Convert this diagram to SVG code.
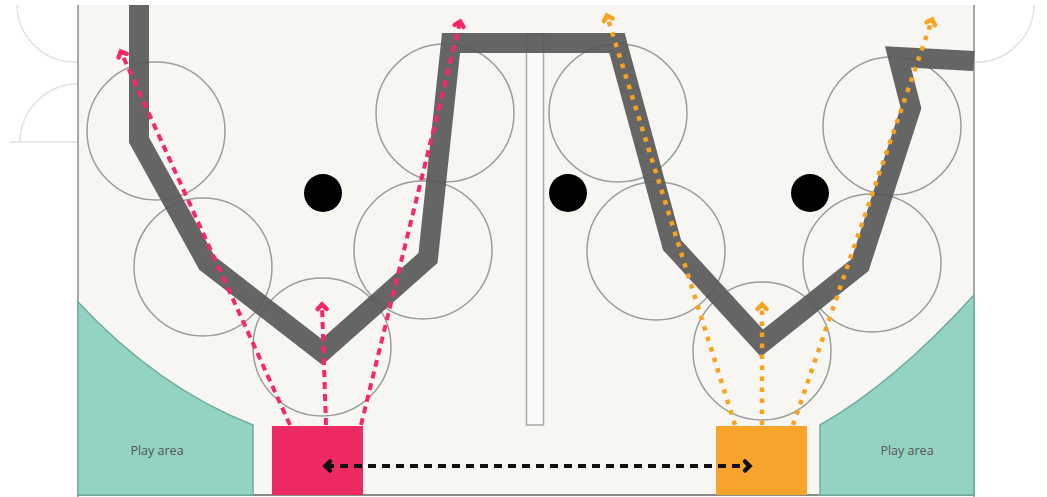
<svg xmlns="http://www.w3.org/2000/svg" width="1047" height="497" viewBox="0 0 1047 497">
  <defs>
    <style>
      .faint { fill: none; stroke: #e2e2e2; stroke-width: 1.5; }
      .wall { stroke: #a8a8a8; stroke-width: 2; fill: none; }
      .zone { fill: none; stroke: #9c9c9c; stroke-width: 1.5; }
      .dot { fill: #000; }
      .teal { fill: #94d3c4; stroke: #6fae9f; stroke-width: 1.5; }
      .label { font-family: "Open Sans", "Liberation Sans", sans-serif; font-size: 12.5px; fill: #555; text-anchor: middle; }
      .band { fill: none; stroke: #595959; stroke-width: 20; stroke-linejoin: miter; stroke-miterlimit: 6; opacity: 0.93; }
      .pink { fill: none; stroke: #f7286a; stroke-width: 4; stroke-dasharray: 7 5; }
      .orange { fill: none; stroke: #f8a320; stroke-width: 4.5; stroke-dasharray: 4.5 6.5; }
      .black { fill: none; stroke: #111; stroke-width: 4; stroke-dasharray: 8 6; }
    </style>
    <marker id="headPink" viewBox="-8 -8 16 16" markerWidth="16" markerHeight="16" markerUnits="userSpaceOnUse" refX="0" refY="0" orient="auto">
      <path d="M-4,-4.5 L0.5,0 L-4,4.5" fill="none" stroke="#f7286a" stroke-width="4.5" stroke-linecap="round"/>
    </marker>
    <marker id="headOrange" viewBox="-8 -8 16 16" markerWidth="16" markerHeight="16" markerUnits="userSpaceOnUse" refX="0" refY="0" orient="auto">
      <path d="M-4,-4.5 L0.5,0 L-4,4.5" fill="none" stroke="#f8a320" stroke-width="4.5" stroke-linecap="round"/>
    </marker>
    <marker id="headBlack" viewBox="-8 -8 16 16" markerWidth="16" markerHeight="16" markerUnits="userSpaceOnUse" refX="0" refY="0" orient="auto">
      <path d="M-4,-4.5 L0.5,0 L-4,4.5" fill="none" stroke="#111" stroke-width="4.5" stroke-linecap="round"/>
    </marker>
    <marker id="headBlackStart" viewBox="-8 -8 16 16" markerWidth="16" markerHeight="16" markerUnits="userSpaceOnUse" refX="0" refY="0" orient="auto-start-reverse">
      <path d="M-4,-4.5 L0.5,0 L-4,4.5" fill="none" stroke="#111" stroke-width="4.5" stroke-linecap="round"/>
    </marker>
  </defs>

  <!-- page -->
  <rect x="0" y="0" width="1047" height="497" fill="#ffffff"/>

  <!-- faint neighbouring shapes outside the field -->
  <g id="outside">
    <path class="faint" d="M78,62 A58,58 0 0 1 17,5"/>
    <path class="faint" d="M20,142 A58,58 0 0 1 78,84"/>
    <line class="faint" x1="10" y1="142" x2="78" y2="142"/>
    <path class="faint" d="M974,62 A58,58 0 0 0 1034,5"/>
  </g>

  <!-- field -->
  <g id="field">
    <rect x="78" y="5" width="896" height="490" fill="#f8f6f3"/>
    <line class="wall" x1="78" y1="5" x2="78" y2="497"/>
    <line class="wall" x1="974" y1="5" x2="974" y2="497"/>
    <line x1="78" y1="495" x2="974" y2="495" stroke="#8a8a8a" stroke-width="2"/>
  </g>

  <!-- play areas -->
  <g id="play-left">
    <path class="teal" d="M78,302 Q158,388 253,425 L253,495 L78,495 Z"/>
    <text class="label" x="157" y="455">Play area</text>
  </g>
  <g id="play-right">
    <path class="teal" d="M974,295 Q894,383 820,425 L820,495 L974,495 Z"/>
    <text class="label" x="907" y="455">Play area</text>
  </g>

  <!-- central divider -->
  <rect id="divider" x="526.5" y="34" width="17" height="391" fill="#fbfaf8" stroke="#a8a8a8" stroke-width="1.5"/>

  <!-- coverage circles -->
  <g id="zones">
    <circle class="zone" cx="156" cy="131" r="69"/>
    <circle class="zone" cx="203" cy="267" r="69"/>
    <circle class="zone" cx="322" cy="347" r="69"/>
    <circle class="zone" cx="423" cy="250" r="69"/>
    <circle class="zone" cx="445" cy="113" r="69"/>
    <circle class="zone" cx="618" cy="113" r="69"/>
    <circle class="zone" cx="656" cy="251" r="69"/>
    <circle class="zone" cx="762" cy="351" r="69"/>
    <circle class="zone" cx="872" cy="263" r="69"/>
    <circle class="zone" cx="892" cy="126" r="69"/>
  </g>

  <!-- posts -->
  <g id="posts">
    <circle class="dot" cx="323" cy="193" r="19"/>
    <circle class="dot" cx="568" cy="193" r="19"/>
    <circle class="dot" cx="810" cy="193" r="19"/>
  </g>

  <!-- barrier track -->
  <path id="track" class="band" d="M139,5 L139,140 L207,263 L322,352 L428,258 L451,43 L617,43 L672,245 L762,343 L860,265 L911,108 L898,57 L974,61"/>

  <!-- start boxes -->
  <rect id="start-pink" x="272" y="426" width="91" height="69" fill="#ee2a63"/>
  <rect id="start-orange" x="716" y="426" width="91" height="69" fill="#f7a52a"/>

  <!-- connectors -->
  <g id="connectors">
    <path class="pink" d="M290,425 L121,52" marker-end="url(#headPink)"/>
    <path class="pink" d="M326,425 L322,305" marker-end="url(#headPink)"/>
    <path class="pink" d="M361,425 L460,22" marker-end="url(#headPink)"/>
    <path class="orange" d="M735,425 L607,16" marker-end="url(#headOrange)"/>
    <path class="orange" d="M762,425 L762,305" marker-end="url(#headOrange)"/>
    <path class="orange" d="M793,425 L932,20" marker-end="url(#headOrange)"/>
    <path class="black" d="M326,466 L749,466" marker-start="url(#headBlackStart)" marker-end="url(#headBlack)"/>
  </g>
</svg>
